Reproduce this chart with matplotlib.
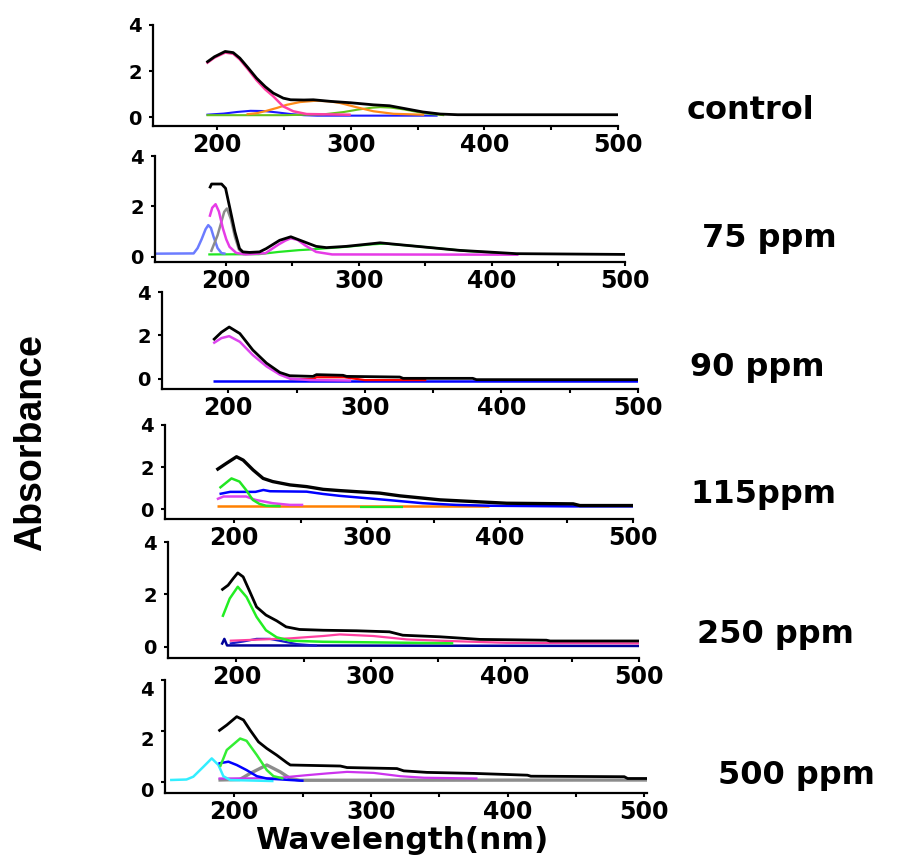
import matplotlib
matplotlib.use('Agg')
import matplotlib.pyplot as plt
import matplotlib.transforms as mtransforms

W, H, DPI = 902, 857, 100

# ---------------- data ----------------
panel_labels = ['control', '75 ppm', '90 ppm', '115ppm', '250 ppm', '500 ppm']
x_label = 'Wavelength(nm)'
y_label = 'Absorbance'
x_ticks = [200, 300, 400, 500]
x_minor_ticks = [250, 350, 450]
y_ticks = [0, 2, 4]

# control
c_black_x = [192, 198, 206, 212, 217, 223, 229.5, 236, 242, 249.5, 255, 265, 272, 285, 300, 317, 329, 342, 354, 367, 380, 500]
c_black_y = [2.37, 2.62, 2.85, 2.8, 2.56, 2.15, 1.69, 1.32, 1.04, 0.82, 0.75, 0.74, 0.75, 0.68, 0.62, 0.53, 0.49, 0.35, 0.22, 0.13, 0.1, 0.1]
c_pink_x = [192, 198, 206, 212, 217, 223, 229.5, 236, 242, 249.5, 257, 267, 300]
c_pink_y = [2.33, 2.58, 2.8, 2.75, 2.5, 2.08, 1.6, 1.2, 0.9, 0.46, 0.25, 0.13, 0.1]
c_orange_x = [222, 230, 237, 245, 252, 262, 274, 284, 292, 304, 317, 332, 355]
c_orange_y = [0.12, 0.17, 0.27, 0.4, 0.53, 0.65, 0.71, 0.68, 0.61, 0.43, 0.25, 0.14, 0.1]
c_green_x = [192, 250, 280, 295, 305, 315, 322, 330, 340, 350, 360, 370]
c_green_y = [0.08, 0.08, 0.12, 0.22, 0.32, 0.4, 0.43, 0.41, 0.33, 0.22, 0.13, 0.08]
c_blue_x = [192, 205, 215, 225, 235, 245, 255, 265, 275, 365]
c_blue_y = [0.1, 0.15, 0.22, 0.27, 0.26, 0.2, 0.13, 0.08, 0.06, 0.06]

# 75 ppm
p75_black_x = [188, 189.5, 197, 200, 203, 207, 210.5, 213, 218, 225.5, 230.5, 240.6, 249, 258, 268, 275.7, 290.7, 310.8, 316, 335.8, 356, 376, 396, 418.5, 500]
p75_black_y = [2.72, 2.89, 2.89, 2.72, 1.99, 1.0, 0.33, 0.2, 0.18, 0.2, 0.33, 0.66, 0.8, 0.62, 0.42, 0.37, 0.42, 0.53, 0.56, 0.46, 0.36, 0.26, 0.2, 0.13, 0.1]
p75_blue_x = [147, 176, 179, 182, 185, 187, 189, 191, 194, 197, 200]
p75_blue_y = [0.13, 0.14, 0.35, 0.7, 1.1, 1.26, 1.15, 0.8, 0.35, 0.15, 0.13]
p75_magenta_x = [188, 190, 192.5, 195, 198, 200.5, 203, 208, 215, 230, 240, 245, 249, 254, 260, 268, 280, 420]
p75_magenta_y = [1.59, 1.95, 2.09, 1.8, 1.13, 0.7, 0.4, 0.16, 0.1, 0.15, 0.5, 0.65, 0.74, 0.68, 0.45, 0.2, 0.1, 0.09]
p75_gray_x = [189, 194, 199, 201, 204, 207, 210, 214]
p75_gray_y = [0.2, 0.86, 1.79, 1.92, 1.5, 0.8, 0.3, 0.1]
p75_green_x = [187, 225, 240, 255, 265, 272, 290, 310, 320, 340, 360, 380, 398, 405]
p75_green_y = [0.1, 0.11, 0.2, 0.27, 0.3, 0.33, 0.4, 0.5, 0.53, 0.44, 0.34, 0.24, 0.18, 0.1]

# 90 ppm
p90_black_x = [189, 195, 200.7, 208.5, 218, 228, 237.8, 245, 262, 264.6, 284, 286.6, 325.6, 328, 379, 381.7, 500]
p90_black_y = [1.79, 2.15, 2.39, 2.09, 1.33, 0.73, 0.3, 0.15, 0.12, 0.2, 0.17, 0.12, 0.09, 0.03, 0.03, -0.03, -0.03]
p90_magenta_x = [189, 195, 200.7, 208.5, 218, 228, 237.8, 245, 260, 290]
p90_magenta_y = [1.64, 1.88, 1.97, 1.71, 1.1, 0.58, 0.2, 0.02, -0.05, -0.07]
p90_red_x = [245, 262, 264.6, 285, 300, 345]
p90_red_y = [0.0, 0.0, 0.08, 0.08, -0.05, -0.05]
p90_blue_x = [189, 500]
p90_blue_y = [-0.07, -0.07]

# 115 ppm
p115_black_x = [186.7, 194, 201.8, 206.8, 214.3, 221.8, 229, 242, 254.5, 267, 279.6, 292, 309.7, 324.8, 342.4, 355, 380, 405, 455, 460, 500]
p115_black_y = [1.86, 2.17, 2.49, 2.33, 1.86, 1.46, 1.31, 1.15, 1.07, 0.94, 0.88, 0.83, 0.76, 0.63, 0.52, 0.44, 0.36, 0.28, 0.25, 0.17, 0.17]
p115_green_x = [189, 198, 204, 209, 214, 219, 224, 235]
p115_green_y = [1.0, 1.46, 1.31, 0.91, 0.44, 0.25, 0.16, 0.14]
p115_green_b_x = [295, 327]
p115_green_b_y = [0.09, 0.09]
p115_magenta_x = [187, 192, 209, 216, 229, 242, 252]
p115_magenta_y = [0.47, 0.6, 0.6, 0.44, 0.28, 0.2, 0.2]
p115_blue_x = [189, 197, 216, 222, 227, 254.5, 267, 279.6, 299.6, 319.7, 342, 367, 392.6, 455, 500]
p115_blue_y = [0.72, 0.82, 0.82, 0.91, 0.85, 0.83, 0.72, 0.63, 0.52, 0.41, 0.28, 0.2, 0.16, 0.13, 0.13]
p115_orange_x = [187, 392]
p115_orange_y = [0.16, 0.16]

# 250 ppm
p250_black_x = [188.8, 193.8, 197.5, 201, 205, 210, 215, 222, 230, 237, 247, 264.6, 289.5, 314, 324, 351.6, 381.5, 431, 433.7, 500]
p250_black_y = [2.16, 2.35, 2.6, 2.82, 2.67, 2.1, 1.52, 1.21, 0.99, 0.76, 0.66, 0.63, 0.61, 0.57, 0.44, 0.38, 0.28, 0.25, 0.22, 0.22]
p250_green_x = [189.6, 195, 201, 207.5, 215, 222, 230, 240, 264.6, 361.6]
p250_green_y = [1.14, 1.84, 2.29, 1.9, 1.14, 0.63, 0.36, 0.23, 0.19, 0.13]
p250_pink_x = [195, 240, 264.6, 277, 302, 327, 351.6, 401, 500]
p250_pink_y = [0.23, 0.32, 0.41, 0.47, 0.41, 0.28, 0.23, 0.15, 0.13]
p250_blue_x = [195, 205, 215, 225, 235, 245, 260]
p250_blue_y = [0.12, 0.2, 0.3, 0.3, 0.2, 0.1, 0.04]
p250_navy_x = [189, 191, 193, 500]
p250_navy_y = [0.08, 0.3, 0.05, 0.03]

# 500 ppm
p500_black_x = [188.4, 194.5, 201.8, 206.7, 211.6, 217.7, 223.8, 231, 238.5, 241, 277.6, 282.5, 319, 324, 341, 375.4, 414.5, 417, 485.4, 487.8, 502]
p500_black_y = [1.99, 2.23, 2.56, 2.43, 2.03, 1.57, 1.31, 1.05, 0.75, 0.66, 0.62, 0.56, 0.52, 0.43, 0.37, 0.33, 0.26, 0.22, 0.2, 0.13, 0.13]
p500_green_x = [189.6, 194.5, 204.3, 209, 216.5, 223.8, 228.7, 236]
p500_green_y = [0.59, 1.25, 1.7, 1.61, 1.05, 0.46, 0.22, 0.13]
p500_cyan_x = [153, 165, 170, 177.4, 183.5, 188.4, 192, 197, 228.7]
p500_cyan_y = [0.07, 0.09, 0.2, 0.59, 0.92, 0.66, 0.22, 0.07, 0.03]
p500_blue_x = [188.4, 195.7, 201.8, 209, 216.5, 223.8, 241, 250.7]
p500_blue_y = [0.72, 0.79, 0.66, 0.46, 0.22, 0.13, 0.07, 0.04]
p500_gray_x = [188.4, 204, 211.6, 223.8, 233.6, 241, 248, 502]
p500_gray_y = [0.07, 0.09, 0.33, 0.66, 0.39, 0.13, 0.06, 0.07]
p500_magenta_x = [188.4, 230, 241, 253, 268, 282.5, 302, 321.6, 338.8, 378]
p500_magenta_y = [0.13, 0.14, 0.2, 0.26, 0.33, 0.39, 0.35, 0.22, 0.16, 0.13]

# ---------------- styling / layout ----------------
BLACK = '#000000'
panels = [
    [(c_blue_x, c_blue_y, '#1a1aff', 1.5), (c_green_x, c_green_y, '#66c21a', 1.5),
     (c_orange_x, c_orange_y, '#ff8a1a', 1.6), (c_pink_x, c_pink_y, '#ff3fa3', 1.8),
     (c_black_x, c_black_y, BLACK, 2.0)],
    [(p75_green_x, p75_green_y, '#22e622', 1.6), (p75_blue_x, p75_blue_y, '#6c7cff', 1.8),
     (p75_gray_x, p75_gray_y, '#8c8c8c', 1.8), (p75_magenta_x, p75_magenta_y, '#e63be6', 1.8),
     (p75_black_x, p75_black_y, BLACK, 2.0)],
    [(p90_blue_x, p90_blue_y, '#0000ff', 1.8), (p90_red_x, p90_red_y, '#ff0000', 1.6),
     (p90_magenta_x, p90_magenta_y, '#dd44ee', 1.8), (p90_black_x, p90_black_y, BLACK, 2.0)],
    [(p115_orange_x, p115_orange_y, '#ff8000', 1.8), (p115_green_b_x, p115_green_b_y, '#22e622', 1.6),
     (p115_magenta_x, p115_magenta_y, '#dd44ee', 1.8), (p115_blue_x, p115_blue_y, '#0000ff', 1.8),
     (p115_green_x, p115_green_y, '#22e622', 1.8), (p115_black_x, p115_black_y, BLACK, 2.4)],
    [(p250_navy_x, p250_navy_y, '#000099', 1.8), (p250_blue_x, p250_blue_y, '#1a1acc', 1.6),
     (p250_pink_x, p250_pink_y, '#ff3f9f', 1.6), (p250_green_x, p250_green_y, '#22ee22', 1.8),
     (p250_black_x, p250_black_y, BLACK, 2.0)],
    [(p500_gray_x, p500_gray_y, '#8c8c8c', 2.4), (p500_magenta_x, p500_magenta_y, '#cc33ee', 1.6),
     (p500_cyan_x, p500_cyan_y, '#33eeff', 1.8), (p500_blue_x, p500_blue_y, '#0000ff', 1.8),
     (p500_green_x, p500_green_y, '#33ee33', 1.8), (p500_black_x, p500_black_y, BLACK, 2.0)],
]

# axes boxes in pixels: left, right, top, bottom ; limits
boxes = [(153, 618, 25, 126), (155, 625, 156, 262), (162, 638, 292, 389),
         (165, 633, 425, 519), (168, 639, 542, 658), (165, 647, 680, 793)]
xlims = [(152, 500), (147, 500), (151.5, 500), (148, 500), (149, 500), (149.3, 502)]
ylims = [(-0.39, 4), (-0.2, 4), (-0.46, 4), (-0.47, 4), (-0.43, 4), (-0.44, 4)]
label_pos = [(687, 119), (702, 247), (690, 376), (690, 503), (697, 643), (718, 784)]

plt.rcParams['font.family'] = ['DejaVu Sans']
plt.rcParams['font.weight'] = 'bold'

fig = plt.figure(figsize=(W / DPI, H / DPI), dpi=DPI)
fig.patch.set_facecolor('white')

for i, curves in enumerate(panels):
    l, r, t, b = boxes[i]
    ax = fig.add_axes([l / W, 1 - b / H, (r - l) / W, (b - t) / H])
    for xs, ys, col, lw in curves:
        ax.plot(xs, ys, color=col, lw=lw, solid_joinstyle='round', solid_capstyle='butt')
    ax.set_xlim(*xlims[i])
    ax.set_ylim(*ylims[i])
    for s in ['top', 'right']:
        ax.spines[s].set_visible(False)
    for s in ['left', 'bottom']:
        ax.spines[s].set_linewidth(1.6)
    ax.set_xticks(x_ticks)
    ax.set_xticks(x_minor_ticks, minor=True)
    ax.set_xticklabels([str(v) for v in x_ticks], fontsize=17, fontweight='bold')
    ax.set_yticks(y_ticks)
    ax.set_yticklabels([str(v) for v in y_ticks], fontsize=14, fontweight='bold')
    ax.tick_params(axis='both', which='both', direction='out', length=3, width=1.5)
    ax.tick_params(axis='x', which='major', pad=2)
    ax.tick_params(axis='y', which='major', pad=5)
    ax.set_facecolor('none')
    if i == 5:
        off = mtransforms.ScaledTranslation(0, -0.08, fig.dpi_scale_trans)
        for lab in ax.get_yticklabels():
            lab.set_transform(lab.get_transform() + off)
    lx, ly = label_pos[i]
    fig.text(lx / W, 1 - ly / H, panel_labels[i], fontsize=23, fontweight='bold',
             ha='left', va='baseline')

fig.text(255 / W, 1 - 849 / H, x_label, fontsize=22.5, fontweight='bold', ha='left', va='baseline')
fig.text(31 / W, 1 - 443 / H, y_label, fontsize=27, fontweight='bold', rotation=90,
         ha='center', va='center', family=['Liberation Sans', 'DejaVu Sans'])

fig.savefig('out.png', dpi=DPI)
